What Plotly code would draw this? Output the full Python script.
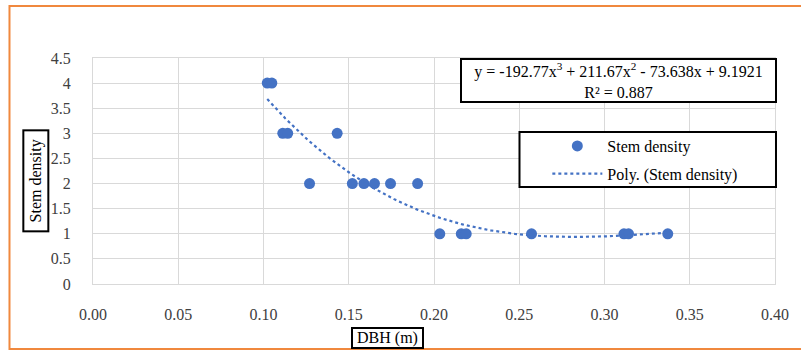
import numpy as np
import plotly.graph_objects as go

# Data
dbh = [0.1022, 0.1049, 0.1113, 0.1142, 0.1270, 0.1432, 0.1521, 0.1589, 0.1651,
       0.1745, 0.1904, 0.2034, 0.2160, 0.2189, 0.2572, 0.3114, 0.3141, 0.3371]
stem_density = [4, 4, 3, 3, 2, 3, 2, 2, 2, 2, 2, 1, 1, 1, 1, 1, 1, 1]
x_ticks = [0.00, 0.05, 0.10, 0.15, 0.20, 0.25, 0.30, 0.35, 0.40]
y_ticks = [0, 0.5, 1, 1.5, 2, 2.5, 3, 3.5, 4, 4.5]
equation_text = "y = -192.77x<sup>3</sup> + 211.67x<sup>2</sup> - 73.638x + 9.1921<br>R² = 0.887"

# Polynomial (order 3) trendline fitted to the data
coef = np.polyfit(dbh, stem_density, 3)
xt = np.linspace(min(dbh), max(dbh), 200)
yt = np.polyval(coef, xt)

FONT = "Liberation Serif, Times New Roman, serif"
BLUE = "#4472C4"
L, R, T, B = 93, 779, 58, 284   # plot-area edges in page pixels
W, H = R - L, B - T


def px(x):
    return (x - L) / W


def py(y):
    return (B - y) / H


fig = go.Figure()
fig.add_trace(go.Scatter(x=dbh, y=stem_density, mode="markers", name="Stem density",
                         legendgroup="a", marker=dict(color=BLUE, size=11)))
fig.add_trace(go.Scatter(x=xt, y=yt, mode="lines", name="Poly. (Stem density)",
                         legendgroup="b", line=dict(color=BLUE, width=2.2, dash="dot")))

fig.update_layout(
    width=801, height=351,
    margin=dict(l=L, r=801 - R, t=T, b=351 - B),
    paper_bgcolor="white", plot_bgcolor="white",
    font=dict(family=FONT, size=16, color="#404040"),
    showlegend=True,
    legend=dict(x=px(550), xanchor="left", y=py(129), yanchor="top",
                borderwidth=0, bgcolor="rgba(0,0,0,0)",
                font=dict(family=FONT, size=16, color="black"),
                itemwidth=50, tracegroupgap=4),
    xaxis=dict(range=[0, 0.4], tickvals=x_ticks, tickformat=".2f",
               showgrid=True, gridcolor="#d9d9d9", gridwidth=1,
               zeroline=False, showline=True, linecolor="#d9d9d9", mirror=True,
               ticks="outside", ticklen=16, tickcolor="rgba(0,0,0,0)",
               tickfont=dict(family=FONT, size=16, color="#404040")),
    yaxis=dict(range=[0, 4.5], tickvals=y_ticks,
               showgrid=True, gridcolor="#d9d9d9", gridwidth=1,
               zeroline=False, showline=True, linecolor="#d9d9d9", mirror=True,
               ticks="outside", ticklen=18, tickcolor="rgba(0,0,0,0)",
               tickfont=dict(family=FONT, size=16, color="#404040")),
)

# legend frame
fig.add_shape(type="rect", xref="paper", yref="paper",
              x0=px(522), x1=px(780), y0=py(187), y1=py(132),
              line=dict(color="black", width=2), fillcolor="white", layer="above")
# equation box
fig.add_annotation(xref="paper", yref="paper", x=px(621.5), y=py(80.5),
                   xanchor="center", yanchor="middle", showarrow=False,
                   text=equation_text, align="center",
                   font=dict(family=FONT, size=16, color="black"),
                   bordercolor="black", borderwidth=2, bgcolor="white",
                   width=313, height=41, borderpad=0)
# axis titles
fig.add_annotation(xref="paper", yref="paper", x=px(389.5), y=py(338),
                   xanchor="center", yanchor="middle", showarrow=False,
                   text="DBH (m)", font=dict(family=FONT, size=16, color="black"),
                   bordercolor="black", borderwidth=2, bgcolor="white",
                   width=69, height=18, borderpad=0)
fig.add_annotation(xref="paper", yref="paper", x=px(35.5), y=py(180.5),
                   xanchor="center", yanchor="middle", showarrow=False, textangle=-90,
                   text="Stem density", font=dict(family=FONT, size=16, color="black"),
                   bordercolor="black", borderwidth=2, bgcolor="white",
                   width=99, height=23, borderpad=0)
# orange chart border
fig.add_shape(type="rect", xref="paper", yref="paper",
              x0=px(9), x1=px(830), y0=py(349), y1=py(6),
              line=dict(color="#F0883E", width=2), layer="below")

fig.write_html("out.html", config={"displayModeBar": False},
               post_script="document.body.style.margin='0';")
